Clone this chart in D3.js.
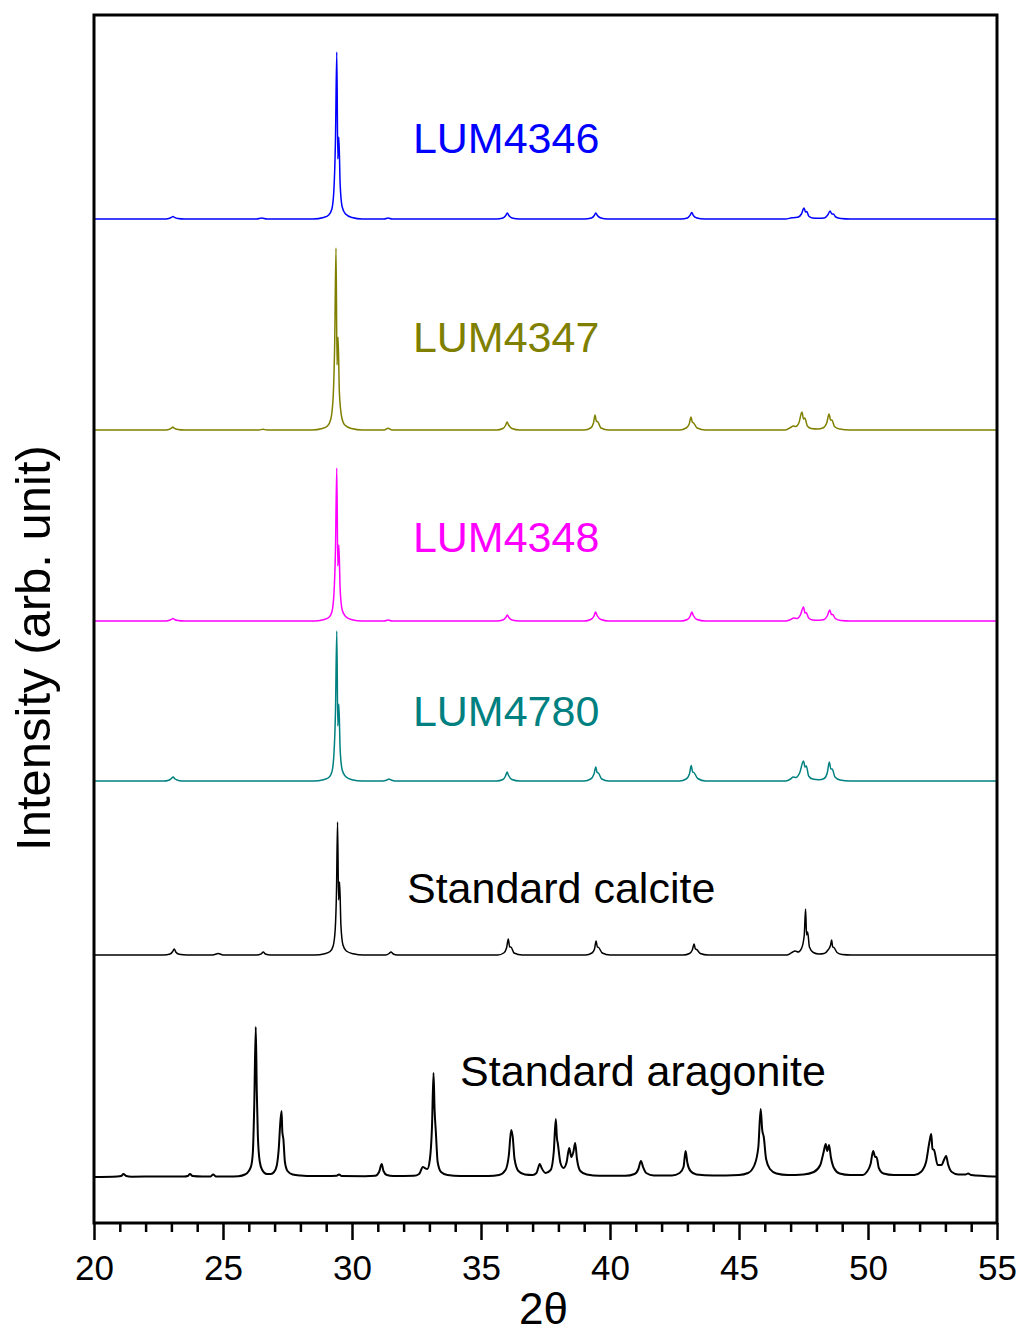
<!DOCTYPE html>
<html>
<head>
<meta charset="utf-8">
<script src="https://cdn.jsdelivr.net/npm/d3@7"></script>
<style>
  html, body { margin: 0; padding: 0; background: #fff; }
  svg { display: block; }
  text { font-family: "Liberation Sans", Arial, sans-serif; }
</style>
</head>
<body>
<svg id="chart" width="1021" height="1335"></svg>
<script>
// ---------------- data ----------------
// 2θ axis ticks
const majorTicks = [20, 25, 30, 35, 40, 45, 50, 55];
const minorTicks = d3.range(21, 55).filter(v => v % 5 !== 0);

// pattern names, top to bottom
const seriesNames = ["LUM4346", "LUM4347", "LUM4348", "LUM4780", "Standard calcite", "Standard aragonite"];

// vertical offset of each pattern (arb. unit)
const seriesOffsets = [1004, 793, 602, 442, 268, 46];

// diffraction patterns: [2θ, intensity above the pattern's own baseline]
const lum4346 = [
  [20,0],[22.7,0],[22.9,0.6],[23.0,1.6],[23.06,2.5],[23.12,1.6],[23.25,0.5],[23.5,0],
  [26.3,0],[26.5,1],[26.7,0],
  [28.5,0],[28.9,1.5],[29.1,4],[29.22,10],[29.3,30],[29.36,80],[29.41,167],[29.45,60],[29.49,82],[29.54,35],[29.62,12],[29.75,5],[30.0,1.5],[30.4,0],
  [31.25,0],[31.4,1],[31.55,0],
  [35.6,0],[35.85,1],[35.96,3.5],[36.02,6],[36.08,3.5],[36.2,1],[36.5,0],
  [39.0,0],[39.28,1],[39.39,3.5],[39.45,6],[39.51,3.5],[39.65,1],[39.9,0],
  [42.75,0],[43.0,1],[43.11,4],[43.17,6.5],[43.23,3.5],[43.37,1],[43.65,0],
  [46.8,0],[47.05,1.2],[47.17,1.5],[47.3,2],[47.42,5],[47.52,11],[47.58,7],[47.63,7.5],[47.7,3],[47.85,1],[48.1,0.7],
  [48.3,1],[48.44,4],[48.53,8],[48.6,5],[48.66,5],[48.75,2],[48.95,0.5],[49.3,0],
  [55,0]
];

const lum4347 = [
  [20,0],[22.7,0],[22.9,0.6],[23.0,1.8],[23.05,3],[23.11,1.8],[23.25,0.5],[23.5,0],
  [26.4,0],[26.55,0.8],[26.7,0],
  [28.45,0],[28.85,1.5],[29.05,4],[29.18,11],[29.27,33],[29.33,88],[29.38,182],[29.42,65],[29.46,93],[29.51,38],[29.6,13],[29.72,5],[29.98,1.5],[30.4,0],
  [31.25,0],[31.4,1.8],[31.55,0],
  [35.6,0],[35.85,1.5],[35.95,4.5],[36.01,8],[36.07,5],[36.2,1.5],[36.5,0],
  [39.0,0],[39.25,2],[39.36,7],[39.42,15],[39.47,9],[39.53,8],[39.65,2],[39.95,0],
  [42.7,0],[42.95,2],[43.07,6],[43.14,13],[43.19,8],[43.24,7],[43.38,2],[43.7,0],
  [46.8,0],[47.0,2.5],[47.1,4],[47.2,3.5],[47.32,7],[47.44,18],[47.5,11],[47.55,12],[47.65,4],[47.8,1.5],[48.05,1],
  [48.25,2],[48.4,7],[48.49,16],[48.55,10],[48.6,10],[48.7,3.5],[48.9,1],[49.3,0],
  [55,0]
];

const lum4348 = [
  [20,0],[22.7,0],[22.9,0.6],[23.0,1.6],[23.06,2.5],[23.12,1.5],[23.25,0.5],[23.5,0],
  [28.5,0],[28.9,1.3],[29.1,3.5],[29.22,9],[29.3,27],[29.36,72],[29.41,153],[29.45,55],[29.49,76],[29.54,32],[29.62,11],[29.75,4.5],[30.0,1.3],[30.4,0],
  [31.25,0],[31.4,1],[31.55,0],
  [35.6,0],[35.85,1],[35.96,3.5],[36.02,6],[36.08,3.5],[36.2,1],[36.5,0],
  [39.0,0],[39.25,1.5],[39.38,5],[39.44,9],[39.5,5.5],[39.65,1.5],[39.95,0],
  [42.75,0],[43.0,1.5],[43.11,5],[43.17,9],[43.23,5.5],[43.37,1.5],[43.7,0],
  [46.8,0],[47.0,1.5],[47.12,3],[47.25,2.5],[47.38,6],[47.5,14],[47.56,8],[47.6,8.5],[47.7,3],[47.85,1],[48.1,0.7],
  [48.3,1.5],[48.42,5],[48.52,11],[48.58,6.5],[48.63,6.5],[48.73,2.5],[48.95,0.5],[49.3,0],
  [55,0]
];

const lum4780 = [
  [20,0],[22.7,0],[22.9,0.8],[23.0,2.5],[23.07,4],[23.13,2.2],[23.27,0.6],[23.5,0],
  [28.5,0],[28.9,1.3],[29.1,3.5],[29.22,9],[29.3,27],[29.36,70],[29.41,150],[29.45,55],[29.49,77],[29.54,32],[29.62,11],[29.75,4.5],[30.0,1.3],[30.4,0],
  [31.2,0],[31.35,1],[31.43,2],[31.52,1],[31.65,0],
  [35.6,0],[35.85,1.5],[35.95,5],[36.01,9],[36.07,5.5],[36.2,1.5],[36.5,0],
  [39.0,0],[39.25,2],[39.38,7],[39.45,14],[39.5,8.5],[39.55,8],[39.68,2],[39.95,0],
  [42.7,0],[42.95,2],[43.08,7],[43.15,15.5],[43.2,9],[43.25,8.5],[43.4,2.5],[43.7,0],
  [46.8,0],[47.0,2],[47.1,4],[47.2,3.5],[47.35,8],[47.5,20],[47.56,14],[47.61,15],[47.7,5],[47.85,2],[48.1,1.2],
  [48.3,2.5],[48.42,8],[48.5,19],[48.56,12],[48.61,12],[48.72,4],[48.92,1],[49.3,0],
  [55,0]
];

const calcite = [
  [20,0],[22.7,0],[22.95,1],[23.05,3.5],[23.11,6],[23.17,3],[23.3,0.8],[23.6,0],
  [24.6,0],[24.82,1.5],[25.0,0],
  [26.3,0],[26.48,1.2],[26.56,3],[26.64,1],[26.85,0],
  [28.55,0],[28.95,1.3],[29.15,3.5],[29.27,9],[29.35,26],[29.4,65],[29.44,133],[29.48,55],[29.52,73],[29.57,30],[29.65,10],[29.78,4],[30.05,1.2],[30.45,0],
  [31.3,0],[31.44,1.5],[31.51,3],[31.6,1],[31.75,0],
  [35.65,0],[35.88,2],[35.99,7],[36.06,16],[36.11,8],[36.16,8],[36.28,2],[36.6,0],
  [39.05,0],[39.3,2],[39.4,6],[39.46,14],[39.51,8],[39.56,7.5],[39.7,2],[40.0,0],
  [42.85,0],[43.08,1.5],[43.19,5],[43.26,11],[43.31,6],[43.36,5.5],[43.5,1.5],[43.8,0],
  [46.85,0],[47.05,2.5],[47.17,4],[47.3,3],[47.43,7],[47.53,20],[47.58,46],[47.62,20],[47.66,23],[47.73,8],[47.88,2.5],[48.1,1],
  [48.3,1.5],[48.45,5],[48.55,10],[48.59,15],[48.63,8],[48.68,7.5],[48.8,2.5],[49.0,0.5],[49.35,0],
  [55,0]
];

const aragonite = [
  [20,0],[20.9,0.5],[21.05,1],[21.14,3],[21.25,1],[21.45,0.3],[22.5,0.5],[23.5,0.5],[23.63,1],[23.72,3],[23.82,1],[24.2,0.5],[24.52,0.6],[24.62,2.5],[24.72,0.6],[25.2,0.5],
  [25.6,0.8],[25.85,2.5],[26.0,6],[26.1,12],[26.16,26],[26.21,70],[26.27,150],[26.31,85],[26.35,42],[26.42,16],[26.52,7],[26.7,3],[26.85,3],
  [26.98,5],[27.08,11],[27.16,28],[27.22,54],[27.27,66],[27.3,45],[27.34,38],[27.4,15],[27.5,6],[27.7,2.5],[28.0,1.5],[28.5,1],[29.0,1],
  [29.4,1.2],[29.5,2.5],[29.6,1],[30.5,0.8],
  [30.9,1.2],[31.05,5],[31.15,13],[31.22,6],[31.35,2],[31.6,1],[32.4,1.2],
  [32.6,3],[32.75,10],[32.82,9],[32.92,8],[33.02,18],[33.1,50],[33.16,104],[33.2,68],[33.25,45],[33.32,15],[33.45,5],[33.7,2],[34.2,1],[35.3,1],
  [35.7,2],[35.95,7],[36.08,22],[36.17,47],[36.23,40],[36.3,18],[36.45,6],[36.7,2.5],[37.0,2],
  [37.15,4],[37.28,13],[37.35,9],[37.5,4],[37.7,7],[37.82,25],[37.9,58],[37.94,40],[37.98,33],[38.08,14],[38.2,9],
  [38.32,15],[38.42,29],[38.5,20],[38.58,25],[38.65,34],[38.72,18],[38.85,6],[39.1,2.5],[39.6,1.2],[40.6,1.2],
  [40.95,3],[41.1,8],[41.2,16],[41.28,10],[41.4,4],[41.7,1.5],[42.4,1.5],
  [42.7,4],[42.85,10],[42.93,26],[43.0,14],[43.12,6],[43.35,2.5],[44.0,1.5],[45.0,2],
  [45.35,4],[45.6,12],[45.75,30],[45.84,68],[45.9,47],[45.96,40],[46.05,18],[46.2,8],[46.45,3.5],[46.9,2],[47.5,2.5],
  [47.9,5],[48.15,12],[48.28,25],[48.36,33],[48.42,26],[48.49,32],[48.56,20],[48.68,9],[48.9,3.5],[49.3,2],[49.8,2],
  [49.95,5],[50.1,13],[50.2,26],[50.28,20],[50.33,20],[50.42,9],[50.6,3.5],[51.0,2],[51.8,2],
  [52.05,5],[52.25,15],[52.38,35],[52.45,43],[52.5,28],[52.56,27],[52.7,12],[52.85,12],[52.96,18],[53.03,21],[53.1,13],[53.25,5],[53.5,2.5],
  [53.78,2.5],[53.88,3.5],[54.0,2],[54.5,1],[55,0.5]
];

const seriesData = [lum4346, lum4347, lum4348, lum4780, calcite, aragonite];

// ---------------- styling / layout ----------------
const seriesColors = ["#0000ff", "#808000", "#ff00ff", "#008080", "#000000", "#000000"];
const seriesWidths = [1.5, 1.5, 1.5, 1.5, 1.5, 2.0];
// label anchors: [2θ, intensity]
const labelAnchors = [[32.36, 1070], [32.36, 871], [32.36, 671], [32.36, 497], [32.13, 320], [34.19, 137]];

const W = 1021, H = 1335;
const plot = { left: 94, right: 997, top: 15, bottom: 1223 };

const svg = d3.select("#chart");

const x = d3.scaleLinear().domain([20, 55]).range([plot.left, plot.right]);
const y = d3.scaleLinear().domain([0, 1208]).range([plot.bottom, plot.top]);

// patterns
const line = d3.line()
  .x(d => x(d[0]))
  .y(d => y(d[1]))
  .curve(d3.curveMonotoneX);

const patterns = svg.append("g").attr("class", "patterns");
seriesData.forEach((pts, i) => {
  const off = seriesOffsets[i];
  patterns.append("path")
    .datum(pts.map(p => [p[0], p[1] + off]))
    .attr("fill", "none")
    .attr("stroke", seriesColors[i])
    .attr("stroke-width", seriesWidths[i])
    .attr("stroke-linejoin", "round")
    .attr("d", line);
});

// pattern labels
const labels = svg.append("g").attr("class", "labels");
seriesNames.forEach((name, i) => {
  labels.append("text")
    .attr("x", x(labelAnchors[i][0]))
    .attr("y", y(labelAnchors[i][1]))
    .attr("fill", seriesColors[i])
    .attr("font-size", 43)
    .text(name);
});

// frame
svg.append("rect")
  .attr("x", plot.left).attr("y", plot.top)
  .attr("width", plot.right - plot.left)
  .attr("height", plot.bottom - plot.top)
  .attr("fill", "none")
  .attr("stroke", "#000")
  .attr("stroke-width", 3);

// bottom axis: minor ticks
const minorAxis = svg.append("g")
  .attr("transform", `translate(0,${plot.bottom})`)
  .call(d3.axisBottom(x).tickValues(minorTicks).tickSize(9).tickSizeOuter(0).tickFormat(""));
minorAxis.select(".domain").remove();
minorAxis.selectAll(".tick line").attr("stroke-width", 2.5);

// bottom axis: major ticks with labels
const majorAxis = svg.append("g")
  .attr("transform", `translate(0,${plot.bottom})`)
  .call(d3.axisBottom(x).tickValues(majorTicks).tickSize(17).tickSizeOuter(0).tickPadding(15).tickFormat(d3.format("d")));
majorAxis.select(".domain").remove();
majorAxis.selectAll(".tick line").attr("stroke-width", 2.5);
majorAxis.selectAll(".tick text")
  .attr("font-size", 35)
  .attr("fill", "#000")
  .style("font-family", "'Liberation Sans', Arial, sans-serif");

// axis titles
svg.append("text")
  .attr("x", (plot.left + plot.right) / 2 - 2)
  .attr("y", 1324)
  .attr("text-anchor", "middle")
  .attr("font-size", 44)
  .text("2θ");

svg.append("text")
  .attr("transform", `translate(50,${648}) rotate(-90)`)
  .attr("text-anchor", "middle")
  .attr("font-size", 49)
  .text("Intensity (arb. unit)");
</script>
</body>
</html>
